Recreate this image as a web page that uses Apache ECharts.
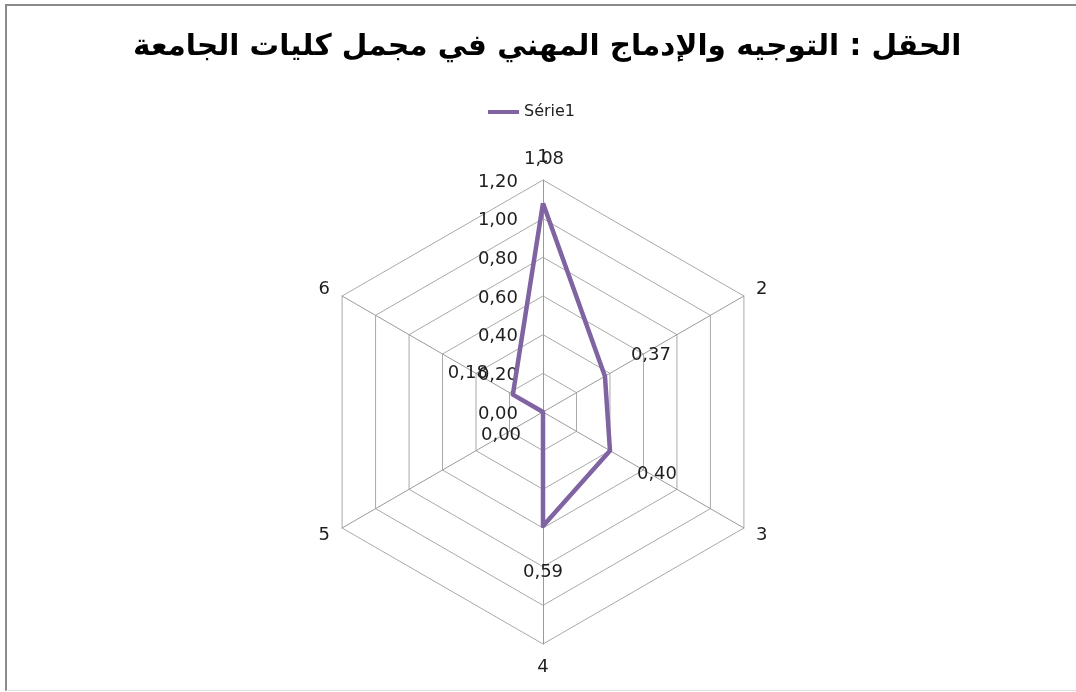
<!DOCTYPE html>
<html>
<head>
<meta charset="utf-8">
<script src="https://cdn.jsdelivr.net/npm/echarts@6/dist/echarts.min.js"></script>
<style>
  html, body { margin: 0; padding: 0; background: #fff; overflow: hidden; }
  #frame { position: absolute; left: 5px; top: 4px; width: 1100px; height: 684px;
           border-left: 2px solid #8a8a8a; border-top: 2px solid #8a8a8a; border-bottom: 1px solid #e2e2e2; }
  #chart { position: absolute; left: 0; top: 0; width: 1076px; height: 692px; }
</style>
</head>
<body>
<div id="frame"></div>
<div id="chart"></div>
<script>
const titleText = 'الحقل : التوجيه والإدماج المهني في مجمل كليات الجامعة';
const seriesName = 'Série1';
const categories = ['1', '2', '3', '4', '5', '6'];
const values = [1.08, 0.37, 0.40, 0.59, 0.00, 0.18];
const axisMax = 1.2;
const splitCount = 6;

const fmt = v => Number(v).toFixed(2).replace('.', ',');
const FONT = 'DejaVu Sans';
const purple = '#8064A2';
const TXT = '#1e1e1e';

// ECharts radar runs counter-clockwise; the reference runs clockwise.
// Order: first category stays on top, the rest reversed.
const order = [0].concat(categories.map((_, i) => i).slice(1).reverse());
const cats = order.map(i => categories[i]);
const vals = order.map(i => values[i]);

// per-point data label offsets (Excel-style outward placement), by original category index
const labelOffsets = [[1, -44], [46, -21], [47, 24], [0, 46], [-42, 23], [-45, -21]];

const indicator = cats.map((c, i) => {
  const o = { name: c, min: 0, max: axisMax };
  if (i === 0) o.axisLabel = { show: true };
  return o;
});

const data = [{
  name: seriesName,
  value: vals,
  symbol: 'none',
  lineStyle: { color: purple, width: 4.5 },
  itemStyle: { color: purple }
}];
order.forEach((origIdx, k) => {
  data.push({
    name: '_lbl' + k,
    value: vals,
    symbol: 'circle',
    symbolSize: 1,
    lineStyle: { opacity: 0, width: 0 },
    itemStyle: { color: 'rgba(0,0,0,0)' },
    label: {
      show: true,
      position: 'inside',
      offset: labelOffsets[origIdx],
      color: TXT,
      fontFamily: FONT,
      fontSize: 18,
      formatter: p => {
        if (p.dimensionIndex !== k) return '';
        const v = Array.isArray(p.value) ? p.value[k] : p.value;
        return fmt(v);
      }
    }
  });
});

const chart = echarts.init(document.getElementById('chart'), null, { renderer: 'canvas' });
chart.setOption({
  animation: false,
  color: [purple],
  backgroundColor: 'transparent',
  title: {
    text: titleText,
    left: 128,
    top: 27,
    textStyle: { fontFamily: FONT, fontWeight: 'bold', fontSize: 29.5, color: '#000' }
  },
  legend: {
    data: [seriesName],
    left: 488,
    top: 104,
    padding: 0,
    icon: 'rect',
    itemWidth: 31,
    itemHeight: 4,
    itemGap: 4,
    itemStyle: { color: purple },
    textStyle: { fontFamily: FONT, fontSize: 16, color: TXT }
  },
  radar: {
    center: [543, 412],
    radius: 232,
    startAngle: 90,
    shape: 'polygon',
    splitNumber: splitCount,
    indicator: indicator,
    axisName: { color: TXT, fontFamily: FONT, fontSize: 18 },
    nameGap: 14,
    splitLine: { lineStyle: { color: '#a9a9a9', width: 1 } },
    splitArea: { show: false },
    axisLine: { lineStyle: { color: '#9a9a9a', width: 1 } },
    axisTick: { show: false },
    axisLabel: {
      show: false,
      color: TXT,
      fontFamily: FONT,
      fontSize: 18,
      margin: 25,
      verticalAlign: 'top',
      padding: [-7, 0, 0, 0],
      formatter: v => fmt(v)
    }
  },
  series: [{
    type: 'radar',
    name: seriesName,
    itemStyle: { color: purple },
    lineStyle: { color: purple },
    data: data
  }]
});
</script>
</body>
</html>
